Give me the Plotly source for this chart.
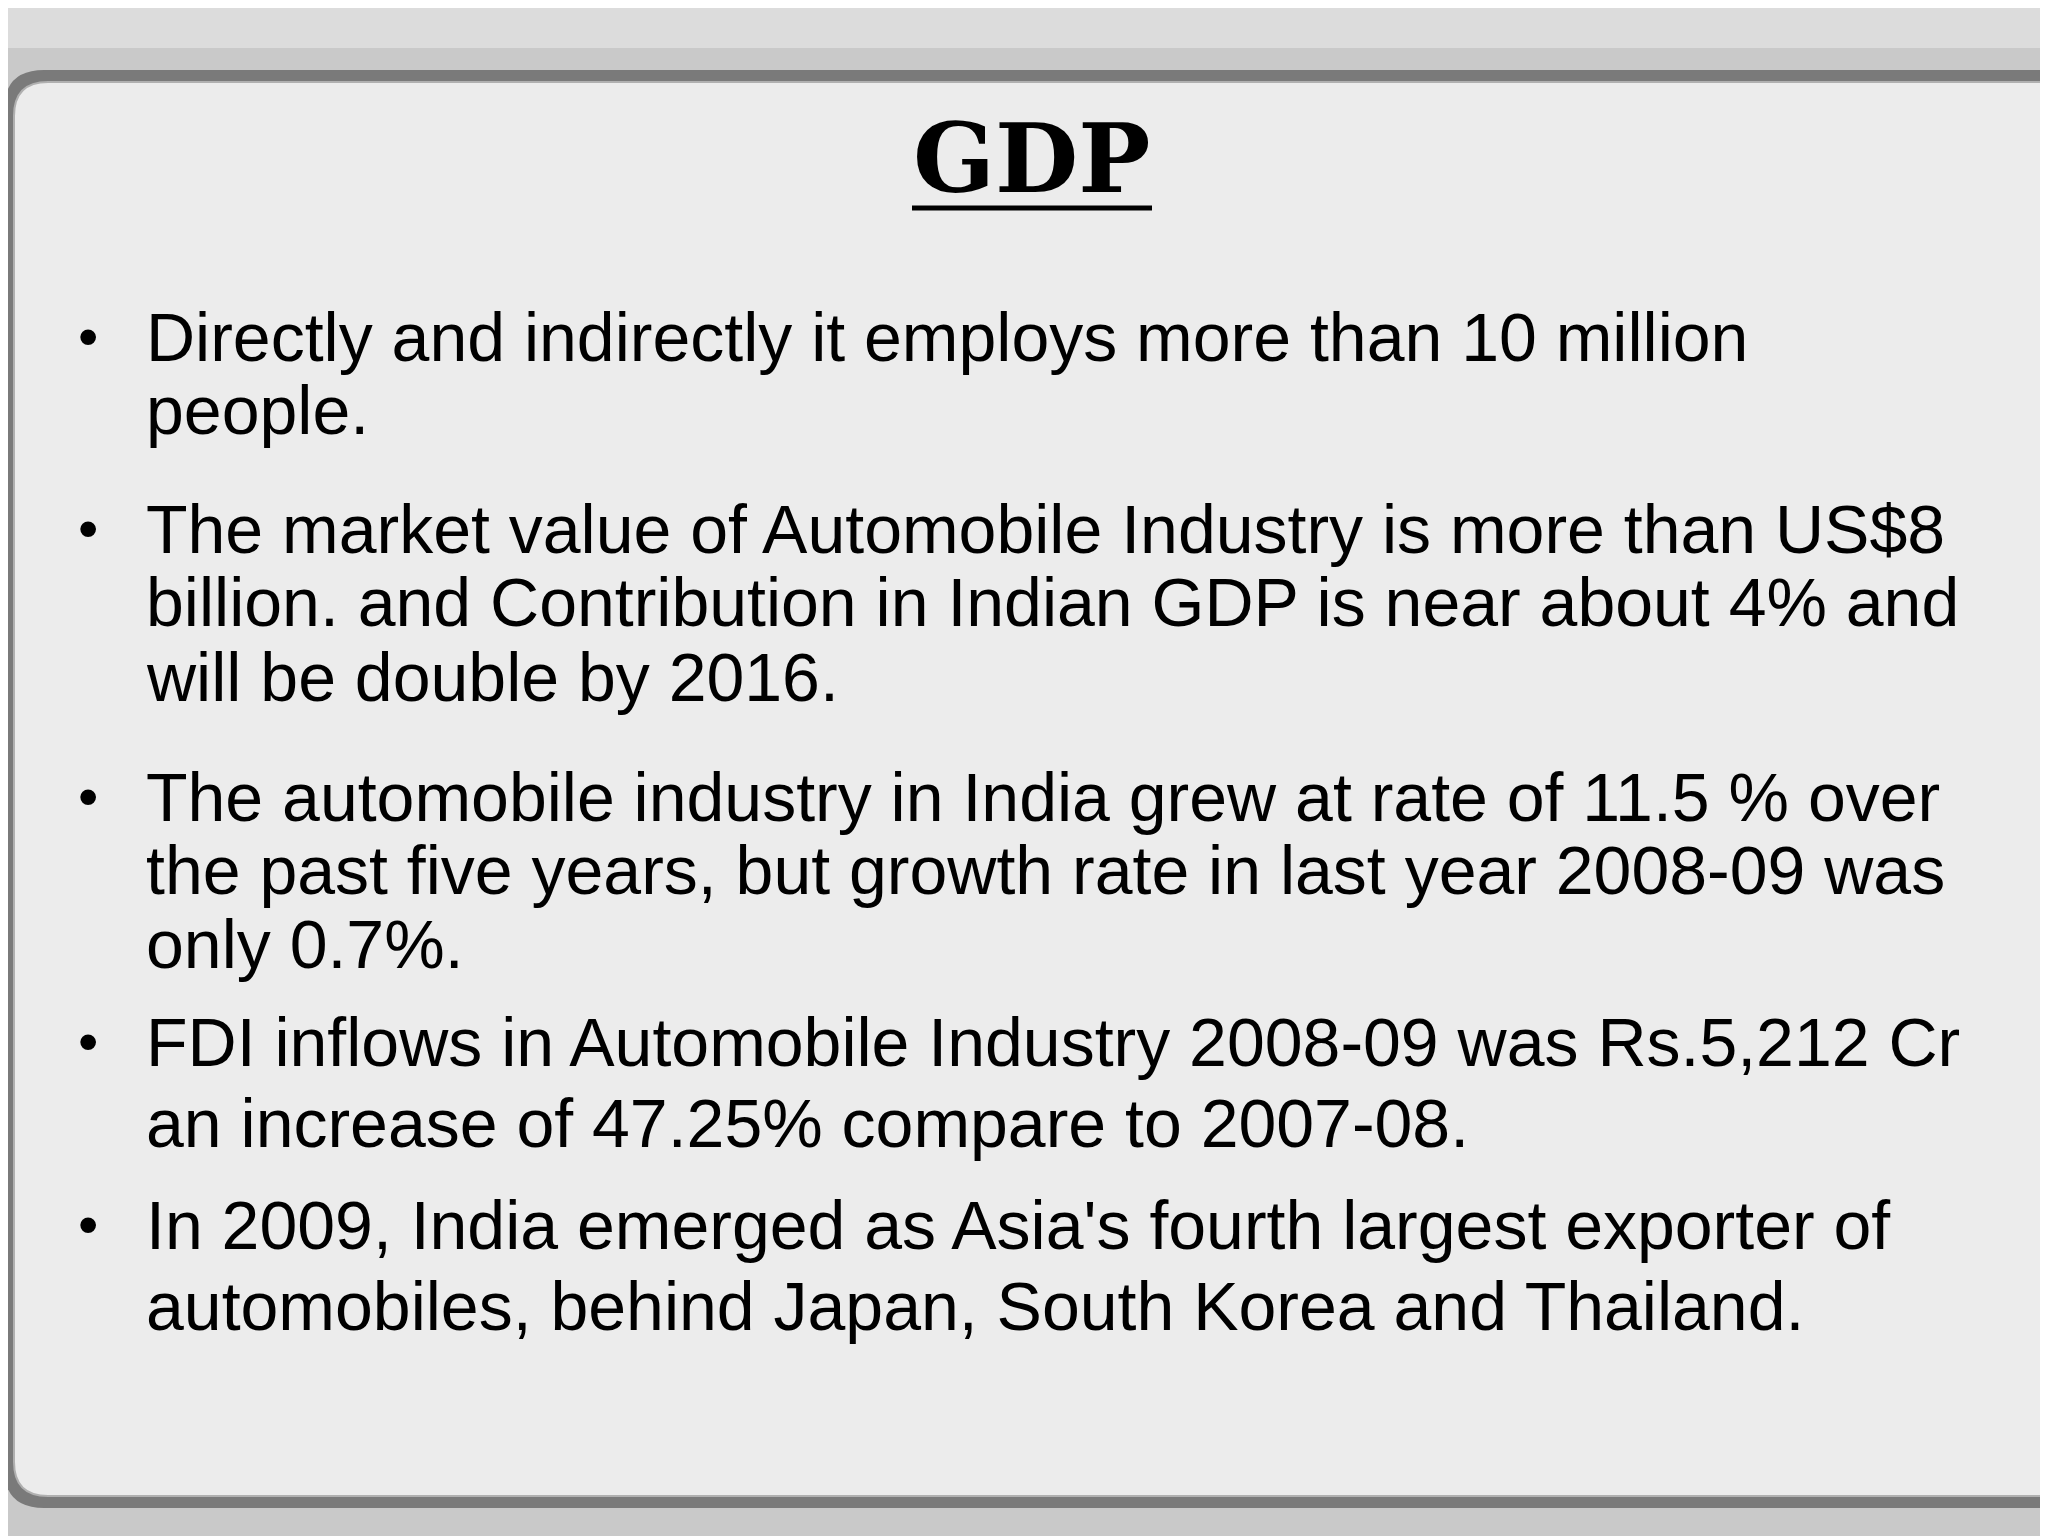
import plotly.graph_objects as go

title = "GDP"
bullets = [
    ["Directly and indirectly it employs more than 10 million", "people."],
    ["The market value of Automobile Industry is more than US$8",
     "billion. and Contribution in Indian GDP is near about 4% and",
     "will be double by 2016."],
    ["The automobile industry in India grew at rate of 11.5 % over",
     "the past five years, but growth rate in last year 2008-09 was",
     "only 0.7%."],
    ["FDI inflows in Automobile Industry 2008-09 was Rs.5,212 Cr",
     "an increase of 47.25% compare to 2007-08."],
    ["In 2009, India emerged as Asia's fourth largest exporter of",
     "automobiles, behind Japan, South Korea and Thailand."],
]
baselines = [[363, 436], [555, 628, 703], [823, 896, 970], [1068, 1149], [1251, 1332]]

W, H = 2048, 1536
fig = go.Figure()

def rounded(x0, y0, x1, y1, r):
    return (f"M {x0+r},{y0} L {x1-r},{y0} Q {x1},{y0} {x1},{y0+r} L {x1},{y1-r} "
            f"Q {x1},{y1} {x1-r},{y1} L {x0+r},{y1} Q {x0},{y1} {x0},{y1-r} "
            f"L {x0},{y0+r} Q {x0},{y0} {x0+r},{y0} Z")

# background frame
fig.add_shape(type="rect", x0=0, y0=0, x1=W, y1=H, fillcolor="#c9c9c9", line_width=0, layer="below")
fig.add_shape(type="rect", x0=0, y0=0, x1=W, y1=40, fillcolor="#dcdcdc", line_width=0, layer="below")
fig.add_shape(type="path", path=rounded(-4, 62, W + 40, 1500, 40),
              fillcolor="#7a7a7a", line_width=0, layer="below")
fig.add_shape(type="path", path=rounded(6, 74, W + 40, 1488, 34),
              fillcolor="#ececec", line=dict(color="#b0b0b0", width=2), layer="below")

font = "Liberation Sans, Arial, sans-serif"
fig.add_annotation(x=1023, y=150, text="<b>" + title + "</b>", showarrow=False,
                   xanchor="center", yanchor="middle",
                   font=dict(family="DejaVu Serif", size=96, color="black"))
fig.add_shape(type="line", x0=904, x1=1144, y0=200, y1=200, line=dict(color="black", width=5))

for lines, ys in zip(bullets, baselines):
    fig.add_annotation(x=80, y=ys[0] - 36, text="•", showarrow=False, xanchor="center",
                       yanchor="middle", font=dict(family=font, size=58, color="black"))
    for t, b in zip(lines, ys):
        fig.add_annotation(x=136, y=b - 34, text=t, showarrow=False, xanchor="left",
                           yanchor="middle", font=dict(family=font, size=68, color="black"))

fig.update_xaxes(range=[0, W], visible=False)
fig.update_yaxes(range=[H, 0], visible=False)
fig.update_layout(width=W, height=H, margin=dict(l=0, r=0, t=0, b=0),
                  paper_bgcolor="#c9c9c9", plot_bgcolor="#c9c9c9", showlegend=False)
fig.write_html("out.html")
